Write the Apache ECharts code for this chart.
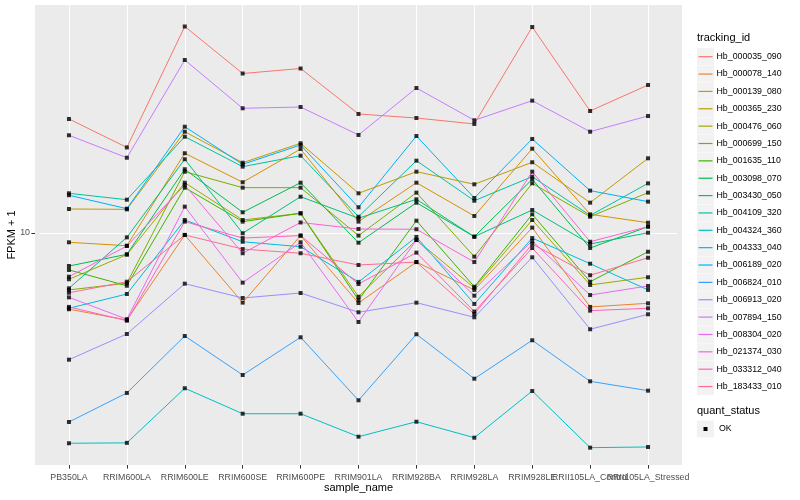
<!DOCTYPE html>
<html><head><meta charset="utf-8">
<script src="https://cdn.jsdelivr.net/npm/echarts@6/dist/echarts.min.js"></script>
<style>html,body{margin:0;padding:0;background:#fff}#c{width:800px;height:500px}</style>
</head><body><div id="c"></div>
<script>
const categories = ['PB350LA','RRIM600LA','RRIM600LE','RRIM600SE','RRIM600PE','RRIM901LA','RRIM928BA','RRIM928LA','RRIM928LE','RRII105LA_Control','RRII105LA_Stressed'];
const trackingIds = ['Hb_000035_090','Hb_000078_140','Hb_000139_080','Hb_000365_230','Hb_000476_060','Hb_000699_150','Hb_001635_110','Hb_003098_070','Hb_003430_050','Hb_004109_320','Hb_004324_360','Hb_004333_040','Hb_006189_020','Hb_006824_010','Hb_006913_020','Hb_007894_150','Hb_008304_020','Hb_021374_030','Hb_033312_040','Hb_183433_010'];
const colors = ['#F8766D','#EA8331','#D89000','#C09B00','#A3A500','#7CAE00','#39B600','#00BB4E','#00BF7D','#00C1A3','#00BFC4','#00BAE0','#00B0F6','#35A2FF','#9590FF','#C77CFF','#E76BF3','#FA62DB','#FF62BC','#FF6C91'];

const Hb_000035_090 = [23.99, 19.28, 48.79, 34.01, 35.34, 24.93, 24.17, 23.09, 48.60, 25.51, 31.14];
const Hb_000078_140 = [5.57, 5.13, 9.85, 5.86, 9.80, 5.84, 8.00, 6.46, 10.42, 5.67, 5.83];
const Hb_000139_080 = [9.31, 9.07, 18.44, 14.76, 19.05, 10.91, 14.71, 11.39, 19.10, 11.54, 10.82];
const Hb_000365_230 = [12.02, 11.99, 21.76, 17.15, 19.91, 13.56, 16.01, 14.53, 17.21, 12.62, 17.74];
const Hb_000476_060 = [7.01, 8.47, 14.71, 11.05, 11.63, 6.13, 9.48, 6.56, 11.05, 6.71, 7.12];
const Hb_000699_150 = [6.46, 6.80, 16.01, 14.16, 14.16, 9.80, 13.63, 8.34, 14.64, 11.33, 13.63];
const Hb_001635_110 = [7.53, 6.67, 14.16, 10.91, 11.63, 5.98, 10.99, 6.62, 11.54, 6.88, 8.66];
const Hb_003098_070 = [7.76, 8.49, 16.31, 11.72, 14.71, 9.28, 12.62, 9.72, 15.10, 8.91, 10.50];
const Hb_003430_050 = [6.54, 9.67, 17.61, 9.98, 13.21, 11.20, 12.95, 9.72, 11.93, 9.19, 10.02];
const Hb_004109_320 = [13.56, 12.91, 20.94, 16.64, 18.10, 11.33, 17.42, 12.81, 15.41, 11.44, 14.64];
const Hb_004324_360 = [1.991, 1.997, 3.037, 2.498, 2.498, 2.094, 2.349, 2.078, 2.974, 1.925, 1.935];
const Hb_004333_040 = [5.61, 6.26, 11.05, 9.35, 9.00, 6.87, 9.70, 5.80, 9.62, 7.90, 6.46];
const Hb_006189_020 = [13.36, 12.05, 22.61, 16.94, 19.65, 12.18, 21.05, 13.08, 20.58, 13.84, 12.72];
const Hb_006824_010 = [2.344, 2.929, 4.536, 3.362, 4.491, 2.769, 4.596, 3.268, 4.389, 3.203, 2.981];
const Hb_006913_020 = [3.782, 4.606, 6.777, 6.071, 6.310, 5.441, 5.857, 5.236, 8.298, 4.776, 5.358];
const Hb_007894_150 = [21.17, 17.82, 37.73, 26.04, 26.30, 21.22, 30.43, 23.75, 27.61, 21.76, 24.55];
const Hb_008304_020 = [6.10, 5.16, 12.24, 6.83, 9.31, 5.05, 9.48, 6.18, 9.40, 6.21, 6.66];
const Hb_021374_030 = [7.15, 9.05, 14.45, 8.56, 10.84, 10.31, 10.29, 8.00, 16.01, 9.35, 10.50];
const Hb_033312_040 = [5.67, 5.10, 10.91, 9.62, 9.80, 6.76, 8.60, 5.47, 8.91, 5.51, 5.61];
const Hb_183433_010 = [6.32, 6.88, 9.85, 8.84, 8.56, 7.82, 8.00, 5.37, 9.19, 7.23, 8.27];

const seriesValues = [Hb_000035_090, Hb_000078_140, Hb_000139_080, Hb_000365_230, Hb_000476_060, Hb_000699_150, Hb_001635_110, Hb_003098_070, Hb_003430_050, Hb_004109_320, Hb_004324_360, Hb_004333_040, Hb_006189_020, Hb_006824_010, Hb_006913_020, Hb_007894_150, Hb_008304_020, Hb_021374_030, Hb_033312_040, Hb_183433_010];
const yTickLabels = [10];
const yMin = 1.685, yMax = 57.54;

const FONT = 'Liberation Sans, Arial, sans-serif';
const chart = echarts.init(document.getElementById('c'), null, {renderer: 'canvas'});

const lineSeries = trackingIds.map((name, i) => ({
  name, type: 'line', data: seriesValues[i], showSymbol: false, symbol: 'none',
  lineStyle: {color: colors[i], width: 1}, itemStyle: {color: colors[i]},
  animation: false, z: 2
}));
const pts = [];
seriesValues.forEach(arr => arr.forEach((v, j) => pts.push([j, v])));
const pointSeries = {
  name: 'OK', type: 'scatter', data: pts, symbol: 'rect', symbolSize: 4,
  itemStyle: {color: '#000'}, animation: false, z: 3, silent: true
};

// legend key boxes (decoration)
const legTop = 48.2, pitch = 17.36, keyX = 697;
const graphics = [{type: 'rect', shape: {x: 35, y: 5, width: 647, height: 460}, style: {fill: '#EBEBEB'}, z: -100, silent: true}];
trackingIds.forEach((n, i) => {
  graphics.push({type: 'rect', shape: {x: keyX, y: legTop + i * pitch, width: 17, height: 17}, style: {fill: '#F2F2F2'}, z: -1, silent: true});
});
graphics.push({type: 'text', left: 697, top: 32, style: {text: 'tracking_id', fill: '#000', font: '11px ' + FONT}, silent: true});
graphics.push({type: 'text', left: 697, top: 405, style: {text: 'quant_status', fill: '#000', font: '11px ' + FONT}, silent: true});
graphics.push({type: 'rect', shape: {x: keyX, y: 420.5, width: 17, height: 17}, style: {fill: '#F2F2F2'}, z: -1, silent: true});
graphics.push({type: 'rect', shape: {x: 703.5, y: 427, width: 4, height: 4}, style: {fill: '#000'}, silent: true});
graphics.push({type: 'text', left: 719, top: 424.5, style: {text: 'OK', fill: '#000', font: '8.8px ' + FONT}, silent: true});

chart.setOption({
  animation: false,
  backgroundColor: '#fff',
  textStyle: {fontFamily: FONT},
  grid: {left: 40, right: 123, top: 5, bottom: 35, containLabel: false, outerBoundsMode: 'none'},
  xAxis: {
    type: 'category', data: categories, boundaryGap: true,
    axisLine: {show: false},
    axisTick: {show: true, alignWithLabel: true, length: 3.6, lineStyle: {color: '#333', width: 1}},
    axisLabel: {interval: 0, fontSize: 8.8, color: '#4D4D4D', margin: 8, fontFamily: FONT, hideOverlap: false},
    splitLine: {show: true, alignWithLabel: true, lineStyle: {color: '#fff', width: 1}},
    name: 'sample_name', nameLocation: 'middle', nameGap: 17, nameMoveOverlap: false,
    nameTextStyle: {fontSize: 11, color: '#000', fontFamily: FONT}
  },
  yAxis: {
    type: 'log', logBase: 10, min: yMin, max: yMax, offset: 5,
    axisLine: {show: false},
    axisTick: {show: true, length: 3.6, customValues: yTickLabels, lineStyle: {color: '#333', width: 1}},
    axisLabel: {customValues: yTickLabels, fontSize: 8.8, color: '#4D4D4D', margin: 5, fontFamily: FONT,
      formatter: v => (Math.abs(v - 10) < 1e-6 ? '10' : '')},
    splitLine: {show: true, lineStyle: {color: '#fff', width: 1}},
    minorSplitLine: {show: false},
    name: 'FPKM + 1', nameLocation: 'middle', nameGap: 18, nameRotate: 90, nameMoveOverlap: false,
    nameTextStyle: {fontSize: 11, color: '#000', fontFamily: FONT}
  },
  legend: {
    orient: 'vertical', left: 698.5, top: legTop + 8.5 - 6, padding: 0,
    itemWidth: 14, itemHeight: 1.2, itemGap: pitch - 12, icon: 'rect',
    selectedMode: false,
    textStyle: {fontSize: 8.8, color: '#000', lineHeight: 12, fontFamily: FONT, padding: [0, 0, 0, -1]},
    data: trackingIds.map((n, i) => ({name: n, itemStyle: {color: colors[i]}}))
  },
  graphic: {elements: graphics},
  series: lineSeries.concat([pointSeries])
});
</script></body></html>
